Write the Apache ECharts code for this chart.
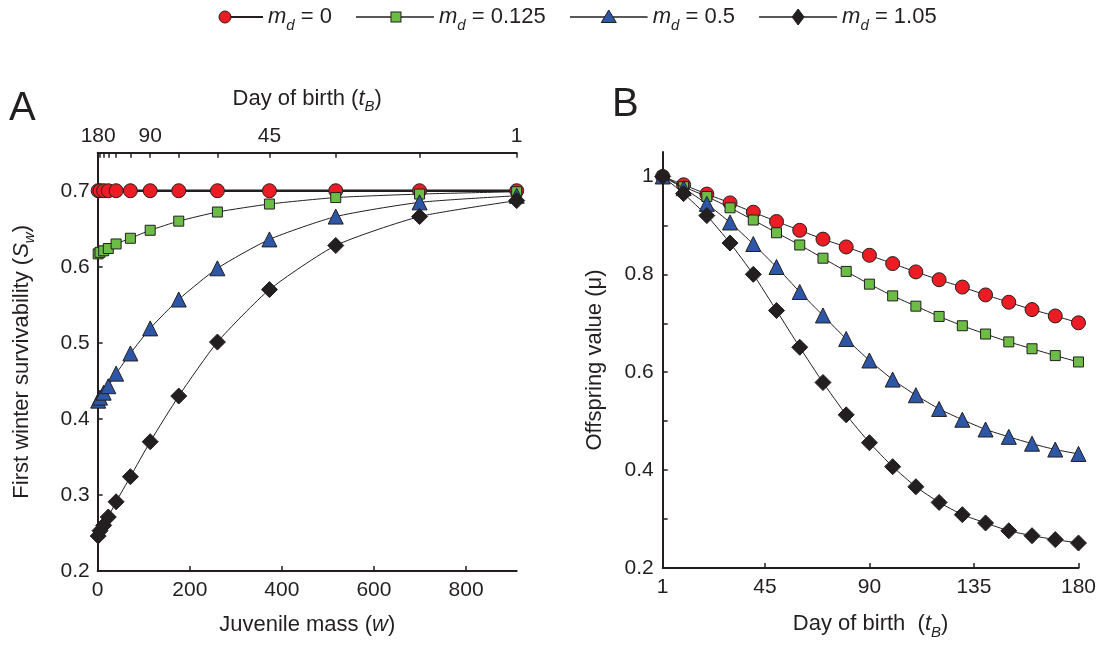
<!DOCTYPE html>
<html>
<head>
<meta charset="utf-8">
<script src="https://cdn.jsdelivr.net/npm/echarts@6/dist/echarts.min.js"></script>
<style>
html,body{margin:0;padding:0;background:#fff;}
#c{width:1099px;height:645px;}
</style>
</head>
<body>
<div id="c"></div>
<script>
// ---------- DATA ----------
const seriesNames = ['0', '0.125', '0.5', '1.05'];

// Panel A: day of birth -> juvenile mass (top axis ticks)
const daysA = [180, 165, 150, 135, 120, 105, 90, 75, 60, 45, 30, 15, 1];
const massA = [1, 5, 13, 23, 40, 71, 114, 176, 260, 373, 517, 699, 910];
const topLabelDays = [180, 90, 45, 1];
const massTicksBottom = [0, 200, 400, 600, 800];
const survTicks = [0.2, 0.3, 0.4, 0.5, 0.6, 0.7];

const survRed   = [0.7, 0.7, 0.7, 0.7, 0.7, 0.7, 0.7, 0.7, 0.7, 0.7, 0.7, 0.7, 0.7];
const survGreen = [0.617, 0.619, 0.621, 0.624, 0.630, 0.6375, 0.648, 0.660, 0.672, 0.6825, 0.691, 0.6956, 0.6987];
const survBlue  = [0.424, 0.428, 0.4345, 0.443, 0.4595, 0.486, 0.519, 0.557, 0.598, 0.636, 0.666, 0.6847, 0.6934];
const survBlack = [0.246, 0.253, 0.260, 0.271, 0.291, 0.324, 0.370, 0.430, 0.501, 0.570, 0.628, 0.666, 0.687];

// Panel B: day of birth -> offspring value
const daysB = [1, 10, 20, 30, 40, 50, 60, 70, 80, 90, 100, 110, 120, 130, 140, 150, 160, 170, 180];
const dayTicksB = [1, 45, 90, 135, 180];
const muTicks = [0.2, 0.3, 0.4, 0.5, 0.6, 0.7, 0.8, 0.9, 1.0];
const muLabels = [0.2, 0.4, 0.6, 0.8, 1.0];

const muRed   = [1.0, 0.983, 0.964, 0.946, 0.927, 0.908, 0.890, 0.872, 0.856, 0.839, 0.822, 0.805, 0.789, 0.774, 0.758, 0.743, 0.728, 0.715, 0.701];
const muGreen = [1.0, 0.979, 0.959, 0.936, 0.911, 0.885, 0.860, 0.833, 0.806, 0.780, 0.756, 0.735, 0.714, 0.695, 0.678, 0.662, 0.648, 0.634, 0.621];
const muBlue  = [1.0, 0.976, 0.944, 0.906, 0.862, 0.815, 0.764, 0.716, 0.668, 0.624, 0.585, 0.553, 0.525, 0.503, 0.483, 0.468, 0.454, 0.442, 0.433];
const muBlack = [1.0, 0.965, 0.920, 0.864, 0.800, 0.726, 0.651, 0.579, 0.513, 0.456, 0.407, 0.366, 0.334, 0.309, 0.292, 0.276, 0.266, 0.258, 0.251];

// ---------- STYLE ----------
const INK = '#231f20';
const FONT = "'Liberation Sans', Arial, Helvetica, sans-serif";
const colors = ['#ec1c24', '#6cbd45', '#2e56a6', '#231f20'];
const symbols = ['circle', 'rect', 'triangle', 'diamond'];
const symSizes = [14, 10, 15, 16];

const survA = [survRed, survGreen, survBlue, survBlack];
const muB = [muRed, muGreen, muBlue, muBlack];

function svgIcon(k) {
  let shape;
  if (k === 0) {
    shape = "<line x1='40' y1='9' x2='78' y2='9' stroke='#231f20' stroke-width='2'/>" +
            "<circle cx='40' cy='9' r='6' fill='#ec1c24' stroke='#231f20' stroke-width='1'/>";
  } else {
    let m;
    if (k === 1) m = "<rect x='35' y='4' width='10' height='10' fill='#6cbd45' stroke='#231f20' stroke-width='1'/>";
    if (k === 2) m = "<polygon points='39,2 46.5,14.5 31.5,14.5' fill='#2e56a6' stroke='#231f20' stroke-width='1'/>";
    if (k === 3) m = "<polygon points='39,1 45,9 39,17 33,9' fill='#231f20' stroke='#231f20' stroke-width='1'/>";
    shape = "<line x1='0' y1='9' x2='78' y2='9' stroke='#231f20' stroke-width='1.5'/>" + m;
  }
  const svg = "<svg xmlns='http://www.w3.org/2000/svg' width='78' height='18' viewBox='0 0 78 18'>" + shape + "</svg>";
  return 'image://data:image/svg+xml;charset=utf-8,' + encodeURIComponent(svg);
}

const baseText = { fontFamily: FONT, color: INK };
function rich(size) {
  return {
    t: { fontFamily: FONT, color: INK, fontSize: size, lineHeight: size + 10, verticalAlign: 'middle' },
    i: { fontFamily: FONT, color: INK, fontSize: size, lineHeight: size + 10, fontStyle: 'italic', verticalAlign: 'middle' },
    sub: { fontFamily: FONT, color: INK, fontSize: Math.round(size * 0.7), lineHeight: size + 10, fontStyle: 'italic', verticalAlign: 'bottom' }
  };
}
const TITLE = 22;
const TICK = 21;

const series = [];
for (let k = 0; k < 4; k++) {
  series.push({
    name: seriesNames[k], type: 'line', xAxisIndex: 0, yAxisIndex: 0,
    data: massA.map((m, i) => [m, survA[k][i]]),
    smooth: 0.2,
    symbol: symbols[k], symbolSize: symSizes[k],
    lineStyle: { color: INK, width: k === 0 ? 2.5 : 1 },
    itemStyle: { color: colors[k], borderColor: INK, borderWidth: 1 },
    z: 2 + k, animation: false
  });
  series.push({
    name: seriesNames[k], type: 'line', xAxisIndex: 2, yAxisIndex: 1,
    data: daysB.map((d, i) => [d, muB[k][i]]),
    smooth: 0.15,
    symbol: symbols[k], symbolSize: symSizes[k],
    lineStyle: { color: INK, width: 1 },
    itemStyle: { color: colors[k], borderColor: INK, borderWidth: 1 },
    z: 2 + k, animation: false
  });
}

function massOfDay(d) { return massA[daysA.indexOf(d)]; }

const axisLine = { show: true, onZero: false, lineStyle: { color: INK, width: 2 } };
const tickIn = (vals) => ({ show: true, inside: true, length: 5, customValues: vals, lineStyle: { color: INK, width: 1.5 } });

const option = {
  backgroundColor: '#fff',
  animation: false,
  legend: {
    left: 180, top: 1,
    itemWidth: 78, itemHeight: 18, itemGap: 24,
    data: seriesNames.map((n, k) => ({ name: n, icon: svgIcon(k) })),
    formatter: n => '{i|m}{sub|d}{t| = ' + n + '}',
    textStyle: { rich: rich(22) },
    selectedMode: false
  },
  grid: [
    { left: 97.7, top: 152.7, width: 419, height: 418.3 },
    { left: 662.7, top: 152, width: 418.5, height: 417.5 }
  ],
  xAxis: [
    { // A bottom
      type: 'value', gridIndex: 0, position: 'bottom', min: 0, max: 910,
      axisLine, axisTick: tickIn(massTicksBottom), splitLine: { show: false },
      axisLabel: Object.assign({ customValues: massTicksBottom, fontSize: TICK, margin: 9 }, baseText),
      name: '{t|Juvenile mass (}{i|w}{t|)}', nameLocation: 'middle', nameGap: 38,
      nameTextStyle: { rich: rich(TITLE) }
    },
    { // A top
      type: 'value', gridIndex: 0, position: 'top', min: 0, max: 910,
      axisLine, axisTick: tickIn(massA), splitLine: { show: false },
      axisLabel: Object.assign({
        customValues: topLabelDays.map(massOfDay), fontSize: TICK, margin: 6,
        formatter: v => String(daysA[massA.indexOf(v)])
      }, baseText),
      name: '{t|Day of birth (}{i|t}{sub|B}{t|)}', nameLocation: 'middle', nameGap: 38,
      nameTextStyle: { rich: rich(TITLE) }
    },
    { // B bottom
      type: 'value', gridIndex: 1, position: 'bottom', min: 1, max: 180,
      axisLine, axisTick: tickIn(dayTicksB), splitLine: { show: false },
      axisLabel: Object.assign({ customValues: dayTicksB, fontSize: TICK, margin: 9 }, baseText),
      name: '{t|Day of birth  (}{i|t}{sub|B}{t|)}', nameLocation: 'middle', nameGap: 40,
      nameTextStyle: { rich: rich(TITLE) }
    }
  ],
  yAxis: [
    { // A left
      type: 'value', gridIndex: 0, min: 0.2, max: 0.75,
      axisLine, axisTick: tickIn(survTicks), splitLine: { show: false },
      axisLabel: Object.assign({ customValues: survTicks, fontSize: TICK, margin: 8, formatter: v => v.toFixed(1) }, baseText),
      name: '{t|First winter survivability (}{i|S}{sub|w}{t|)}', nameLocation: 'middle', nameGap: 60, nameRotate: 90,
      nameTextStyle: { rich: rich(TITLE) }
    },
    { // B left
      type: 'value', gridIndex: 1, min: 0.2, max: 1.05,
      axisLine, axisTick: tickIn(muTicks), splitLine: { show: false },
      axisLabel: Object.assign({
        customValues: muLabels, fontSize: TICK, margin: 9,
        formatter: v => (Math.abs(v - 1) < 1e-9 ? '1' : v.toFixed(1))
      }, baseText),
      name: '{t|Offspring value (μ)}', nameLocation: 'middle', nameGap: 52, nameRotate: 90,
      nameTextStyle: { rich: rich(TITLE) }
    }
  ],
  graphic: [
    { type: 'text', left: 9, top: 89, style: { text: 'A', fontSize: 40, fontFamily: FONT, fill: INK } },
    { type: 'text', left: 612, top: 85, style: { text: 'B', fontSize: 40, fontFamily: FONT, fill: INK } }
  ],
  series
};

const chart = echarts.init(document.getElementById('c'), null, { renderer: 'canvas' });
chart.setOption(option);
</script>
</body>
</html>
